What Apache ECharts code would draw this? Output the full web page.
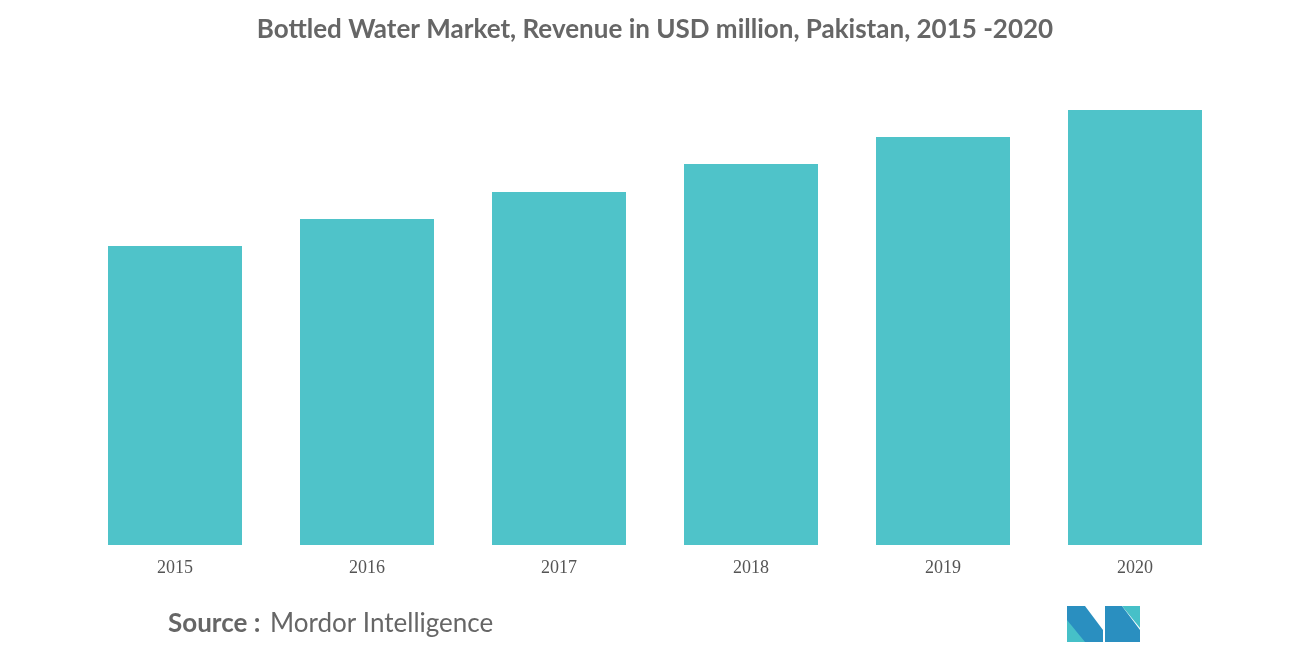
<!DOCTYPE html><html><head><meta charset="utf-8">
<script src="https://cdn.jsdelivr.net/npm/echarts@6/dist/echarts.min.js"></script>
<style>html,body{margin:0;padding:0;background:#fff}#c{width:1310px;height:655px}</style></head><body><div id="c"></div>
<script>
const categories=['2015','2016','2017','2018','2019','2020'];
const revenue=[299,326,353,381,408,435];
const chart=echarts.init(document.getElementById('c'));
chart.setOption({
 animation:false,
 title:{text:'Bottled Water Market, Revenue in USD million, Pakistan, 2015 -2020',left:'center',top:12,
  textStyle:{fontFamily:'Lato',fontWeight:'bold',fontSize:26,color:'#666'}},
 grid:{left:79,right:79,top:110,bottom:110},
 xAxis:{type:'category',data:categories,axisTick:{show:false},axisLine:{show:false},
  axisLabel:{fontFamily:'Liberation Serif',fontSize:18,color:'#555',margin:14}},
 yAxis:{type:'value',min:0,max:435,show:false,splitLine:{show:false}},
 series:[{type:'bar',data:revenue,barWidth:134,itemStyle:{color:'#4fc3c9'}}],
 graphic:[
  {type:'text',left:168,top:611,style:{text:'Source :',font:'bold 26px Lato',fill:'#666'}},
  {type:'text',left:270,top:611,style:{text:'Mordor Intelligence',font:'26px Lato',fill:'#666'}},
  {type:'polygon',shape:{points:[[1067,642],[1067,606],[1085,606],[1103,630],[1103,642]]},style:{fill:'#2a8fc0'}},
  {type:'polygon',shape:{points:[[1067,642],[1067,620],[1085,642]]},style:{fill:'#46c0c8'}},
  {type:'polygon',shape:{points:[[1105,642],[1105,606],[1122,606],[1140,630],[1140,642]]},style:{fill:'#2a8fc0'}},
  {type:'polygon',shape:{points:[[1122,606],[1140,606],[1140,628]]},style:{fill:'#46c0c8'}}
 ]
});
</script></body></html>
